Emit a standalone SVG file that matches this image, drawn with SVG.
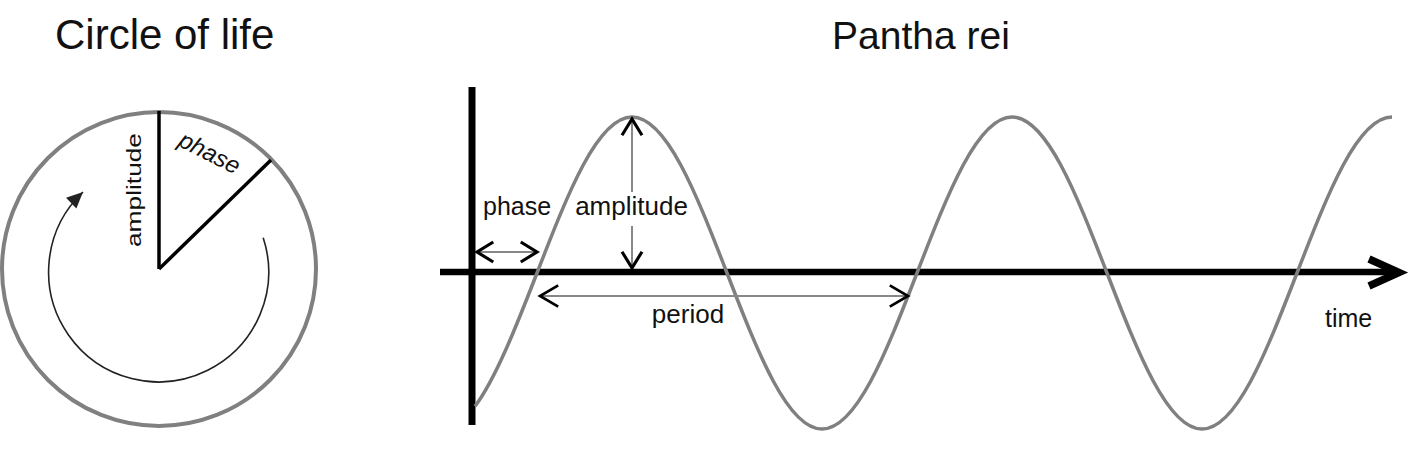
<svg xmlns="http://www.w3.org/2000/svg" width="1425" height="459" viewBox="0 0 1425 459">
<style>
text{font-family:"Liberation Sans",Arial,Helvetica,sans-serif;fill:#111}
.title{font-size:42px}
.lbl{font-size:25px}
.gray{stroke:#808080;fill:none}
.blk{stroke:#000;fill:none}
.shaft{stroke:#888;stroke-width:2;fill:none}
</style>
<defs>
<marker id="vhead" markerUnits="userSpaceOnUse" markerWidth="30" markerHeight="30" viewBox="-16 -12 20 24" refX="0" refY="0" orient="auto-start-reverse">
<path d="M-13,-8 L0,0 L-13,8" stroke="#000" stroke-width="2.5" fill="none"/>
</marker>
<marker id="vheadL" markerUnits="userSpaceOnUse" markerWidth="30" markerHeight="30" viewBox="-20 -14 24 28" refX="0" refY="0" orient="auto-start-reverse">
<path d="M-17,-10 L0,0 L-17,10" stroke="#000" stroke-width="2.5" fill="none"/>
</marker>
<marker id="tri" markerUnits="userSpaceOnUse" markerWidth="20" markerHeight="20" viewBox="-14 -8 16 16" refX="0" refY="0" orient="auto">
<path d="M-13,-6 L0,0 L-13,6 Z" fill="#222"/>
</marker>
</defs>

<g id="circle-of-life">
<text class="title" x="55" y="49">Circle of life</text>
<circle cx="159" cy="269" r="157" class="gray" stroke-width="4"/>
<line x1="159" y1="269" x2="159" y2="111" class="blk" stroke-width="3.5"/>
<line x1="159" y1="269" x2="271" y2="160" class="blk" stroke-width="3.5"/>
<text class="lbl" x="0" y="0" text-anchor="middle" textLength="114" lengthAdjust="spacingAndGlyphs" transform="translate(141,190) rotate(-90)" style="font-size:21px">amplitude</text>
<text class="lbl" x="0" y="0" text-anchor="middle" font-style="italic" transform="translate(206,160) rotate(27)" style="font-size:24px">phase</text>
<path d="M263.2,237.8 A110,110 0 1 1 83,192" stroke="#222" stroke-width="1.6" fill="none" marker-end="url(#tri)"/>
</g>

<g id="pantha-rei">
<text class="title" x="921" y="49" text-anchor="middle" style="font-size:39px">Pantha rei</text>
<line x1="472" y1="87" x2="472" y2="425" class="blk" stroke-width="7"/>
<line x1="440" y1="272" x2="1398" y2="272" class="blk" stroke-width="6.5"/>
<polyline points="1369,259 1399,272.5 1369,286" class="blk" stroke-width="7.5" stroke-linejoin="miter"/>
<path class="gray" stroke-width="3.5" d="M475,406.3 C495.67,378.6 516.33,326.3 537,273 C567.98,193.1 597.62,117 632,117 C666.38,117 696.02,193.1 727,273 C757.98,352.9 787.62,429 822,429 C856.38,429 886.02,352.9 917,273 C947.98,193.1 977.62,117 1012,117 C1046.38,117 1076.02,193.1 1107,273 C1137.98,352.9 1167.62,429 1202,429 C1236.38,429 1266.02,352.9 1297,273 C1327.98,193.1 1357.62,117 1392,117"/>
<text class="lbl" x="483" y="215">phase</text>
<text class="lbl" x="631.5" y="215" text-anchor="middle" style="font-size:26px">amplitude</text>
<text class="lbl" x="688" y="323" text-anchor="middle" style="font-size:26px">period</text>
<text class="lbl" x="1325" y="327">time</text>
</g>

<g id="connectors">
<line x1="477" y1="252" x2="537" y2="252" class="shaft" marker-start="url(#vhead)" marker-end="url(#vhead)"/>
<line x1="632" y1="192" x2="632" y2="119" class="shaft" marker-end="url(#vhead)"/>
<line x1="632" y1="226" x2="632" y2="268" class="shaft" marker-end="url(#vhead)"/>
<line x1="540" y1="296" x2="908" y2="296" class="shaft" marker-start="url(#vheadL)" marker-end="url(#vheadL)"/>
</g>
</svg>
